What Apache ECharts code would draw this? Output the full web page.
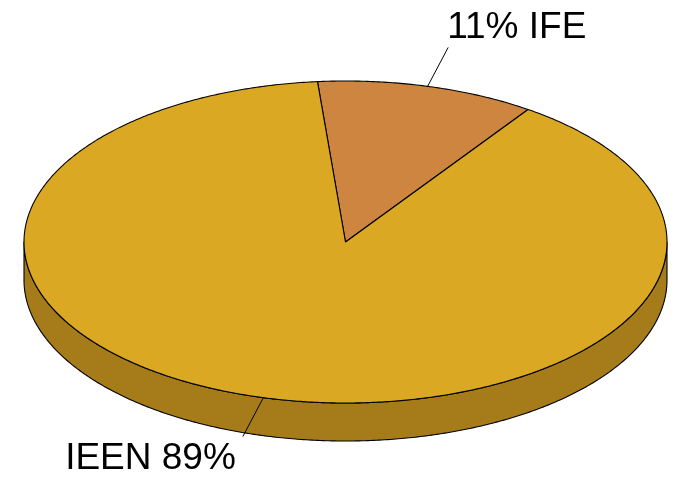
<!DOCTYPE html>
<html>
<head>
<meta charset="utf-8">
<script src="https://cdn.jsdelivr.net/npm/echarts@6/dist/echarts.min.js"></script>
<style>
html,body{margin:0;padding:0;background:#fff;}
#chart{width:677px;height:479px;}
</style>
</head>
<body>
<div id="chart"></div>
<script>
// ---- data ----
const categories = ['IFE', 'IEEN'];
const values = [11, 89];
const percentLabels = ['11%', '89%'];

// ---- style / layout ----
const topColors = ['#CD853F', '#DAA822'];
const sideColors = ['#9F6530', '#A67C1B'];
const CX = 345.5, CY = 242, RX = 321.5, RY = 161, DEPTH = 38;
const START_DEG = -5;
const LEADER = 1.25;
const FONT = '37px "Liberation Sans", Arial, sans-serif';

const total = values.reduce((a, b) => a + b, 0);
const starts = [];
let acc = 0;
values.forEach(v => { starts.push(START_DEG + acc / total * 360); acc += v; });

function pt(deg, dy) {
  const r = deg * Math.PI / 180;
  return [CX + RX * Math.sin(r), CY - RY * Math.cos(r) + (dy || 0)];
}
function arc(a0, a1, dy) {
  const pts = [];
  const n = Math.max(2, Math.ceil(Math.abs(a1 - a0) / 0.5));
  for (let i = 0; i <= n; i++) pts.push(pt(a0 + (a1 - a0) * i / n, dy));
  return pts;
}

const chart = echarts.init(document.getElementById('chart'), null, {renderer: 'canvas'});

chart.setOption({
  backgroundColor: '#ffffff',
  animation: false,
  series: [{
    type: 'custom',
    coordinateSystem: 'none',
    data: categories.map((c, i) => [values[i], i]),
    renderItem: function (params, api) {
      const i = params.dataIndex;
      const v = api.value(0);
      const a0 = starts[i];
      const a1 = a0 + v / total * 360;
      const children = [];
      // side face: front part (90..270 deg)
      const s0 = Math.max(a0, 90), s1 = Math.min(a1, 270);
      if (s1 > s0) {
        const top = arc(s0, s1, 0);
        const bot = arc(s1, s0, DEPTH);
        children.push({
          type: 'polygon', z2: 1,
          shape: {points: top.concat(bot)},
          style: {fill: sideColors[i], stroke: '#000', lineWidth: 1.1, lineJoin: 'round'}
        });
      }
      // top face
      children.push({
        type: 'polygon', z2: 2,
        shape: {points: [[CX, CY]].concat(arc(a0, a1, 0))},
        style: {fill: topColors[i], stroke: '#000', lineWidth: 1.1, lineJoin: 'round'}
      });
      // leader line + label
      const mid = (a0 + a1) / 2;
      const p = pt(mid, 0);
      const e = [CX + (p[0] - CX) * LEADER, CY + (p[1] - CY) * LEADER];
      children.push({
        type: 'line', z2: 10,
        shape: {x1: p[0], y1: p[1], x2: e[0], y2: e[1]},
        style: {stroke: '#000', lineWidth: 1}
      });
      const right = e[0] > CX;
      const upper = e[1] < CY;
      const txt = right ? percentLabels[i] + ' ' + categories[i] : categories[i] + ' ' + percentLabels[i];
      children.push({
        type: 'text', z2: 11,
        x: right ? e[0] - 1 : e[0] - 7,
        y: upper ? e[1] - 20 : e[1] + 22,
        style: {
          text: txt, font: FONT, fill: '#000',
          textAlign: right ? 'left' : 'right', align: right ? 'left' : 'right',
          textVerticalAlign: 'middle', verticalAlign: 'middle'
        }
      });
      return {type: 'group', children: children};
    }
  }]
});
</script>
</body>
</html>
